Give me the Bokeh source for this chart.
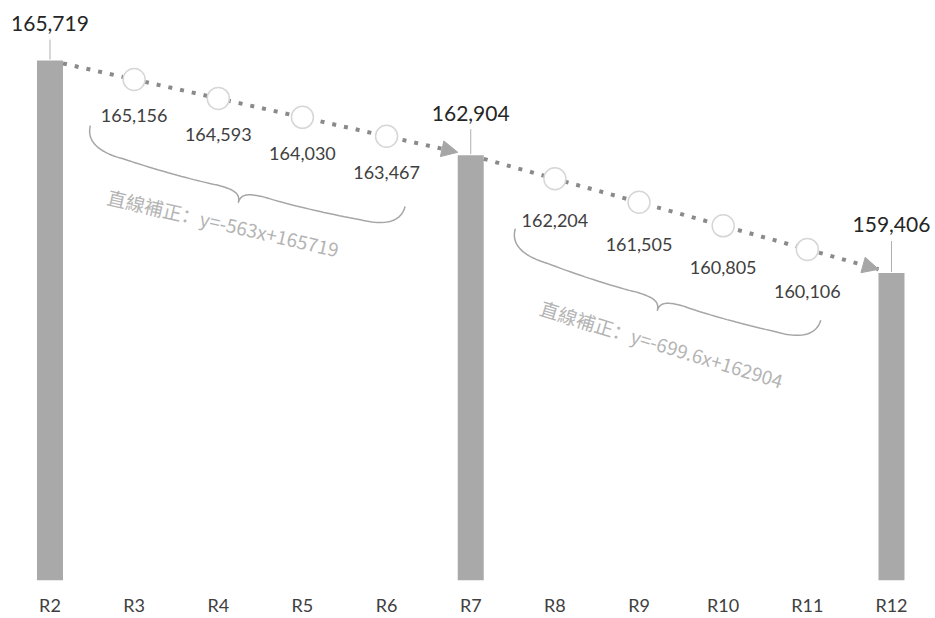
import numpy as np
from bokeh.plotting import figure
from bokeh.models import Range1d, FixedTicker, Arrow, NormalHead
from bokeh.embed import file_html
from bokeh.resources import INLINE
from bokeh.core.properties import value

# ---------------- data ----------------
categories = ["R2", "R3", "R4", "R5", "R6", "R7", "R8", "R9", "R10", "R11", "R12"]
bar_index = [0, 5, 10]
bar_values = [165719, 162904, 159406]
point_index = [1, 2, 3, 4, 6, 7, 8, 9]
point_values = [165156, 164593, 164030, 163467, 162204, 161505, 160805, 160106]
point_segment = [0, 0, 0, 0, 1, 1, 1, 1]
fit_labels = ["直線補正：y=-563x+165719", "直線補正：y=-699.6x+162904"]

# ---------------- layout / style ----------------
W, H = 935, 618
FRAME_H = 580
X_START, X_END = -0.588, 10.523
Y_START, Y_END = 150266, 167502
XU = W / (X_END - X_START)          # px per category unit
YU = FRAME_H / (Y_END - Y_START)    # px per value unit

BAR_PX = 26
BAR_LABEL_RISE = [37, 42, 48]
SEG_LABEL_DROP = [36, 42]
BRACES = [  # segment, x left, x right, drop left px, drop right px
    (0, 0.48, 4.22, 56, 66),
    (1, 5.53, 9.16, 61, 67),
]
FIT_TEXT_POS = [(0, 2.06, 123, 13), (1, 7.27, 135, 17)]  # seg, x, drop px, angle deg

FONT = value("Lato")


def sx(x):
    return (x - X_START) * XU


def sy(v):
    return (Y_END - v) * YU


def dx(px):
    return X_START + px / XU


def dy(py):
    return Y_END - py / YU


slopes = [(bar_values[i + 1] - bar_values[i]) / (bar_index[i + 1] - bar_index[i])
          for i in range(len(bar_values) - 1)]


def seg_val(s, x):
    return bar_values[s] + slopes[s] * (x - bar_index[s])


p = figure(width=W, height=H, x_range=Range1d(X_START, X_END),
           y_range=Range1d(Y_START, Y_END), output_backend="svg",
           toolbar_location=None, y_axis_location=None,
           min_border_left=0, min_border_right=0, min_border_top=0,
           min_border_bottom=H - FRAME_H)
p.outline_line_color = None
p.xgrid.visible = False
p.ygrid.visible = False
p.background_fill_color = "white"
p.border_fill_color = "white"

ax = p.xaxis[0]
ax.ticker = FixedTicker(ticks=list(range(len(categories))))
ax.major_label_overrides = {i: c for i, c in enumerate(categories)}
ax.axis_line_color = None
ax.major_tick_line_color = None
ax.major_tick_out = 0
ax.major_tick_in = 0
ax.minor_tick_line_color = None
ax.minor_tick_out = 0
ax.major_label_standoff = 13
ax.major_label_text_font = "Lato"
ax.major_label_text_font_size = "18px"
ax.major_label_text_color = "#404040"

# bars
bw = BAR_PX / XU
p.vbar(x=bar_index, top=bar_values, bottom=Y_START, width=bw,
       fill_color="#a9a9a9", line_color=None)

# dotted trend lines with arrow heads
hw = bw / 2
for s in range(len(slopes)):
    x0 = bar_index[s] + hw
    x1 = bar_index[s + 1] - hw
    p.line([x0, x1], [seg_val(s, x0), seg_val(s, x1)], line_color="#8a8a8a",
           line_width=4, line_dash="4 8")
    xa = x1 - 0.05
    p.add_layout(Arrow(end=NormalHead(size=16, fill_color="#a6a6a6", line_color="#a6a6a6"),
                       x_start=xa, y_start=seg_val(s, xa), x_end=x1, y_end=seg_val(s, x1),
                       line_alpha=0))

# interpolated points
p.scatter(point_index, point_values, marker="circle", size=22, fill_color="white",
          line_color="#d6d6d6", line_width=1.5)
p.text(x=point_index,
       y=[dy(sy(v) + SEG_LABEL_DROP[s]) for v, s in zip(point_values, point_segment)],
       text=[f"{v:,}" for v in point_values], text_align="center", text_baseline="middle",
       text_font=FONT, text_font_size="18px", text_color="#404040")

# bar labels and leaders
p.segment(x0=bar_index, y0=[dy(sy(v) - 1) for v in bar_values],
          x1=bar_index, y1=[dy(sy(v) - (r - 16)) for v, r in zip(bar_values, BAR_LABEL_RISE)],
          line_color="#b0b0b0", line_width=1)
p.text(x=bar_index, y=[dy(sy(v) - r) for v, r in zip(bar_values, BAR_LABEL_RISE)],
       text=[f"{v:,}" for v in bar_values], text_align="center", text_baseline="middle",
       text_font=FONT, text_font_size="21px", text_color="#262626")


# braces
def bez(p0, p1, p2, p3, n=24):
    t = np.linspace(0, 1, n)[:, None]
    p0, p1, p2, p3 = map(np.array, (p0, p1, p2, p3))
    return (1 - t) ** 3 * p0 + 3 * (1 - t) ** 2 * t * p1 + 3 * (1 - t) * t ** 2 * p2 + t ** 3 * p3


for s, xl, xr, dl, dr in BRACES:
    A = np.array([sx(xl), sy(seg_val(s, xl)) + dl])
    B = np.array([sx(xr), sy(seg_val(s, xr)) + dr])
    L = np.linalg.norm(B - A)
    u = (B - A) / L
    n = np.array([-u[1], u[0]])
    h, d, q, qt = 24, 38, 40, 26
    m = L / 2
    pts = np.vstack([
        bez((0, 0), (0, h * 0.7), (q * 0.4, h), (q, h)),
        bez((q, h), (m * 0.5, h + 3), (m - qt * 1.5, h + 3), (m - qt, h + 2)),
        bez((m - qt, h + 2), (m - qt * 0.3, h + 2), (m, h + (d - h) * 0.3), (m, d)),
        bez((m, d), (m, h + (d - h) * 0.3), (m + qt * 0.3, h + 2), (m + qt, h + 2)),
        bez((m + qt, h + 2), (m + qt * 1.5, h + 3), (L - m * 0.5, h + 3), (L - q, h)),
        bez((L - q, h), (L - q * 0.4, h), (L, h * 0.7), (L, 0)),
    ])
    scr = A[None, :] + pts[:, :1] * u[None, :] + pts[:, 1:2] * n[None, :]
    p.line([dx(v) for v in scr[:, 0]], [dy(v) for v in scr[:, 1]],
           line_color="#a6a6a6", line_width=1.5)

# fit equations
p.text(x=[x for _, x, _, _ in FIT_TEXT_POS],
       y=[dy(sy(seg_val(s, x)) + dp) for s, x, dp, _ in FIT_TEXT_POS],
       text=fit_labels, angle=[-np.deg2rad(a) for _, _, _, a in FIT_TEXT_POS],
       text_align="center", text_baseline="middle",
       text_font=value("Noto Sans CJK SC"), text_font_size="19px", text_color="#b4b4b4")

open("out.html", "w").write(file_html(p, INLINE))
